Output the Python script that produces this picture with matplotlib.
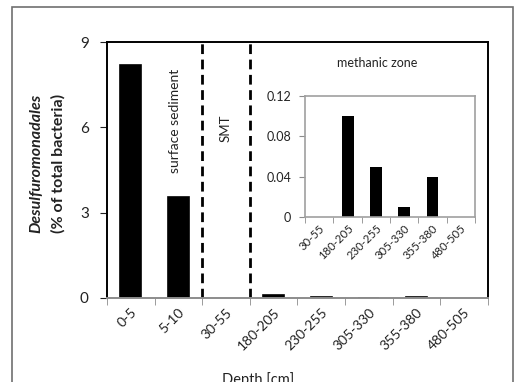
import matplotlib

matplotlib.use("Agg")
import matplotlib.pyplot as plt
import numpy as np
from matplotlib.patches import Rectangle

plt.rcParams["font.family"] = ["Lato", "DejaVu Sans"]

# data
depths = ["0-5", "5-10", "30-55", "180-205", "230-255", "305-330", "355-380", "480-505"]
abundance = [8.2, 3.55, 0.0, 0.1, 0.05, 0.01, 0.04, 0.0]
inset_depths = depths[2:]
inset_abundance = abundance[2:]
main_yticks = [0, 3, 6, 9]
inset_yticks = [0, 0.04, 0.08, 0.12]
inset_yticklabels = ["0", "0.04", "0.08", "0.12"]

DARK = "#222222"
GRAY = "#8c8c8c"

fig = plt.figure(figsize=(5.19, 3.82), dpi=100, facecolor="white")

# outer frame (bottom is cut off in the original)
fig.patches.append(
    Rectangle((12 / 519, -0.1), 501 / 519, 1.1 - 7 / 382, transform=fig.transFigure,
              fill=False, edgecolor="#707070", lw=1.2, zorder=0)
)

ax = fig.add_axes([0.206, 0.220, 0.734, 0.670])
x = np.arange(len(depths))
edge_w = [1.2 if v > 0 else 0 for v in abundance]
ax.bar(x, abundance, width=0.44, color="black", edgecolor="black", linewidth=edge_w)
ax.set_xlim(-0.5, len(depths) - 0.5)
ax.set_ylim(0, 9)
ax.set_yticks(main_yticks)
ax.set_yticklabels([str(v) for v in main_yticks], fontsize=11, color=DARK)
ax.set_xticks(x)
ax.set_xticklabels(depths, rotation=45, ha="right", va="top", rotation_mode="anchor",
                   fontsize=10, color=DARK)
ax.tick_params(axis="x", length=0, pad=6)
ax.set_xticks(np.arange(-0.5, len(depths)), minor=True)
ax.tick_params(axis="x", which="minor", length=5, color=GRAY, direction="out")
ax.tick_params(axis="y", length=5, color=DARK, direction="out", pad=8)
for s in ["top", "right", "left"]:
    ax.spines[s].set_color("black")
    ax.spines[s].set_linewidth(1.4)
ax.spines["bottom"].set_color(GRAY)
ax.spines["bottom"].set_linewidth(1.4)

for xb in [1.5, 2.5]:
    ax.axvline(xb, color="black", lw=2, linestyle=(0, (3.5, 2)))

ax.text(0.93, 0.69, "surface sediment", rotation=90, ha="center", va="center",
        fontsize=10, color=DARK, transform=ax.get_xaxis_transform())
ax.text(2.0, 0.665, "SMT", rotation=90, ha="center", va="center",
        fontsize=9.5, color=DARK, transform=ax.get_xaxis_transform())

fig.text(36 / 519, 0.572, "Desulfuromonadales", rotation=90, ha="center", va="center",
         fontsize=11.5, fontweight="bold", fontstyle="italic", color=DARK)
fig.text(58 / 519, 0.572, "(% of total bacteria)", rotation=90, ha="center", va="center",
         fontsize=11.5, fontweight="bold", color=DARK)
fig.text(258 / 519, 0.006, "Depth [cm]", ha="center", va="center", fontsize=10.5, color=DARK)

# inset: methanic zone
axi = fig.add_axes([0.588, 0.432, 0.327, 0.317])
xi = np.arange(len(inset_depths))
axi.bar(xi, inset_abundance, width=0.42, color="black")
axi.set_xlim(-0.5, len(inset_depths) - 0.5)
axi.set_ylim(0, 0.12)
axi.set_yticks(inset_yticks)
axi.set_yticklabels(inset_yticklabels, fontsize=9, color=DARK)
axi.set_xticks(xi)
axi.set_xticklabels(inset_depths, rotation=45, ha="right", va="top", rotation_mode="anchor",
                    fontsize=8.2, color=DARK)
axi.tick_params(axis="x", length=0, pad=4)
axi.set_xticks(np.arange(-0.5, len(inset_depths)), minor=True)
axi.tick_params(axis="x", which="minor", length=4, color=GRAY)
axi.tick_params(axis="y", length=4, color=GRAY, pad=6)
for s in axi.spines.values():
    s.set_color("#a0a0a0")
    s.set_linewidth(1.2)

fig.text(377 / 519, 1 - 63 / 382, "methanic zone", ha="center", va="center",
         fontsize=9, color=DARK)

fig.savefig("out.png", dpi=100, facecolor="white")
